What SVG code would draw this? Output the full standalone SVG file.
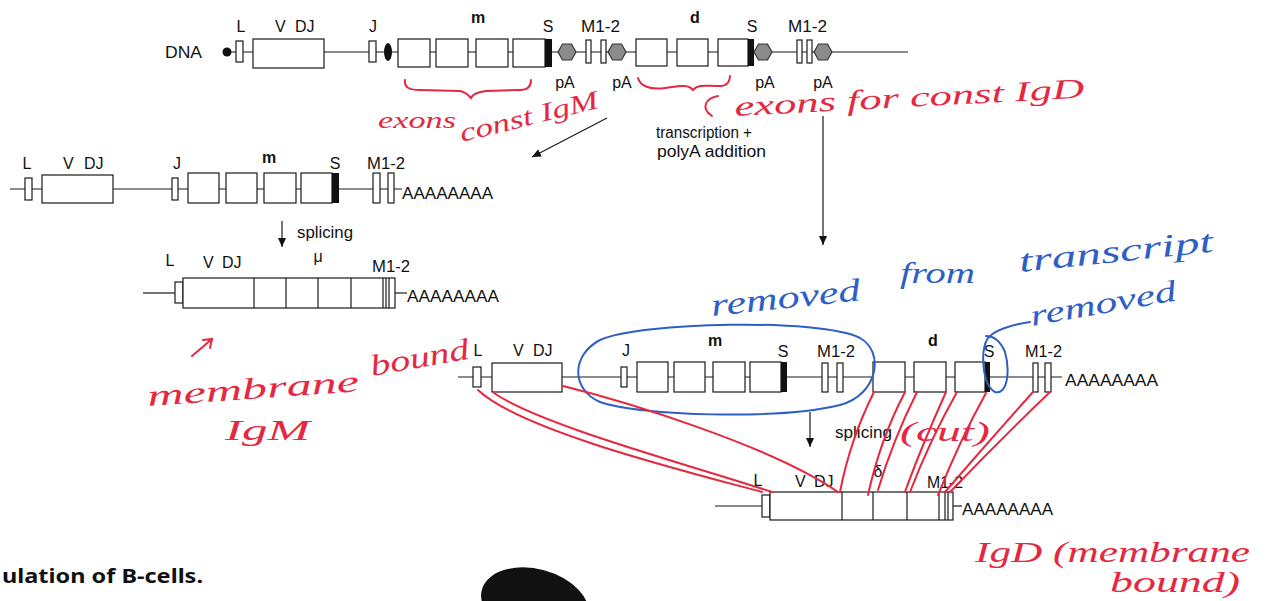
<svg xmlns="http://www.w3.org/2000/svg" width="1267" height="601" viewBox="0 0 1267 601">
<style>
.bx{fill:#fff;stroke:#1a1a1a;stroke-width:1.2}
.bar{fill:#111}
.ln{stroke:#1a1a1a;stroke-width:1.2;fill:none}
.lb{font-family:"Liberation Sans",Arial,sans-serif;font-size:16px;fill:#111}
.b{font-weight:bold}
.mid{text-anchor:middle}
.aa{font-family:"Liberation Sans",Arial,sans-serif;font-size:16px;fill:#111}
.hx{fill:#8c8c8c;stroke:#333;stroke-width:1.2}
.hr{font-family:"Liberation Serif",serif;font-style:italic;fill:#e5283f}
.hb{font-family:"Liberation Serif",serif;font-style:italic;fill:#2f5fc4}
.rs{stroke:#e5283f;stroke-width:2;fill:none;stroke-linecap:round}
.bs{stroke:#2f5fc4;stroke-width:2;fill:none;stroke-linecap:round}
</style>
<defs>
<polygon id="hex" points="9,0 4.5,-8 -4.5,-8 -9,0 -4.5,8 4.5,8"/>
<marker id="arr" markerUnits="userSpaceOnUse" markerWidth="10" markerHeight="10" refX="9" refY="4" orient="auto">
<path d="M0,0 L9,4 L0,8 Z" fill="#111"/>
</marker>
</defs>
<rect width="1267" height="601" fill="#fff"/>

<g id="dna">
<text class="lb" x="165" y="58" textLength="37" lengthAdjust="spacingAndGlyphs">DNA</text>
<line class="ln" x1="227" y1="52" x2="908" y2="52"/>
<circle cx="227" cy="52" r="4.5" fill="#111"/>
<rect class="bx" x="236" y="41" width="7" height="21"/>
<rect class="bx" x="253" y="39" width="71" height="29"/>
<rect class="bx" x="369" y="41" width="7" height="21"/>
<ellipse cx="388" cy="52" rx="4" ry="9" fill="#111"/>
<rect class="bx" x="398" y="39" width="32" height="28"/>
<rect class="bx" x="436" y="39" width="32" height="28"/>
<rect class="bx" x="476" y="39" width="32" height="28"/>
<rect class="bx" x="513" y="39" width="32" height="28"/>
<rect class="bar" x="545" y="39" width="7" height="28"/>
<use href="#hex" class="hx" x="567" y="52"/>
<rect class="bx" x="586" y="40" width="5" height="23"/>
<rect class="bx" x="601" y="40" width="5" height="23"/>
<use href="#hex" class="hx" x="617" y="52"/>
<rect class="bx" x="636" y="39" width="31" height="27"/>
<rect class="bx" x="677" y="39" width="31" height="27"/>
<rect class="bx" x="718" y="39" width="30" height="27"/>
<rect class="bar" x="748" y="39" width="6" height="27"/>
<use href="#hex" class="hx" x="763" y="52"/>
<rect class="bx" x="797" y="40" width="5" height="23"/>
<rect class="bx" x="807" y="40" width="5" height="23"/>
<use href="#hex" class="hx" x="823" y="52"/>
<text class="lb mid" x="241" y="32">L</text>
<text class="lb" x="275" y="32">V</text>
<text class="lb" x="295" y="32">DJ</text>
<text class="lb mid" x="373" y="32">J</text>
<text class="lb b mid" x="478" y="23">m</text>
<text class="lb mid" x="548" y="32">S</text>
<text class="lb" x="581" y="32" textLength="39" lengthAdjust="spacingAndGlyphs">M1-2</text>
<text class="lb b mid" x="695" y="23">d</text>
<text class="lb mid" x="752" y="32">S</text>
<text class="lb" x="788" y="32" textLength="39" lengthAdjust="spacingAndGlyphs">M1-2</text>
<text class="lb mid" x="565" y="88">pA</text>
<text class="lb mid" x="622" y="88">pA</text>
<text class="lb mid" x="765" y="88">pA</text>
<text class="lb mid" x="823" y="88">pA</text>
</g>

<g id="transcript-igm">
<line class="ln" x1="10" y1="189" x2="402" y2="189"/>
<rect class="bx" x="25" y="178" width="7" height="22"/>
<rect class="bx" x="42" y="175" width="71" height="28"/>
<rect class="bx" x="172" y="178" width="6" height="22"/>
<rect class="bx" x="188" y="173" width="31" height="30"/>
<rect class="bx" x="226" y="173" width="31" height="30"/>
<rect class="bx" x="264" y="173" width="32" height="30"/>
<rect class="bx" x="301" y="173" width="31" height="30"/>
<rect class="bar" x="332" y="173" width="7" height="30"/>
<rect class="bx" x="373" y="173" width="7" height="30"/>
<rect class="bx" x="388" y="173" width="6" height="30"/>
<text class="aa" x="402" y="199" textLength="91" lengthAdjust="spacingAndGlyphs">AAAAAAAA</text>
<text class="lb mid" x="27" y="169">L</text>
<text class="lb" x="63" y="169">V</text>
<text class="lb" x="84" y="169">DJ</text>
<text class="lb mid" x="177" y="169">J</text>
<text class="lb b mid" x="269" y="163">m</text>
<text class="lb mid" x="335" y="169">S</text>
<text class="lb" x="367" y="169" textLength="38" lengthAdjust="spacingAndGlyphs">M1-2</text>
</g>

<g id="mrna-igm">
<line class="ln" x1="143" y1="293" x2="175" y2="293"/>
<line class="ln" x1="395" y1="293" x2="407" y2="293"/>
<rect class="bx" x="175" y="282" width="8" height="21"/>
<rect class="bx" x="183" y="278" width="212" height="30"/>
<line class="ln" x1="254" y1="278" x2="254" y2="308"/>
<line class="ln" x1="286" y1="278" x2="286" y2="308"/>
<line class="ln" x1="318" y1="278" x2="318" y2="308"/>
<line class="ln" x1="351" y1="278" x2="351" y2="308"/>
<line class="ln" x1="383" y1="278" x2="383" y2="308"/>
<line class="ln" x1="386" y1="278" x2="386" y2="308"/>
<line class="ln" x1="389" y1="278" x2="389" y2="308"/>
<text class="aa" x="407" y="302" textLength="92" lengthAdjust="spacingAndGlyphs">AAAAAAAA</text>
<text class="lb mid" x="170" y="266">L</text>
<text class="lb" x="203" y="268">V</text>
<text class="lb" x="222" y="268">DJ</text>
<text class="lb mid" x="318" y="262">μ</text>
<text class="lb" x="372" y="272" textLength="38" lengthAdjust="spacingAndGlyphs">M1-2</text>
</g>

<g id="transcript-igd">
<line class="ln" x1="458" y1="377" x2="1062" y2="377"/>
<rect class="bx" x="473" y="367" width="8" height="20"/>
<rect class="bx" x="492" y="363" width="70" height="29"/>
<rect class="bx" x="621" y="367" width="6" height="20"/>
<rect class="bx" x="637" y="362" width="31" height="30"/>
<rect class="bx" x="674" y="362" width="31" height="30"/>
<rect class="bx" x="713" y="362" width="32" height="30"/>
<rect class="bx" x="750" y="362" width="31" height="30"/>
<rect class="bar" x="781" y="362" width="6" height="30"/>
<rect class="bx" x="822" y="363" width="6" height="29"/>
<rect class="bx" x="837" y="363" width="6" height="29"/>
<rect class="bx" x="873" y="362" width="32" height="30"/>
<rect class="bx" x="914" y="362" width="32" height="30"/>
<rect class="bx" x="955" y="362" width="30" height="30"/>
<rect class="bar" x="985" y="362" width="5" height="30"/>
<rect class="bx" x="1033" y="363" width="5" height="29"/>
<rect class="bx" x="1045" y="363" width="6" height="29"/>
<text class="aa" x="1065" y="386" textLength="93" lengthAdjust="spacingAndGlyphs">AAAAAAAA</text>
<text class="lb mid" x="478" y="356">L</text>
<text class="lb" x="513" y="356">V</text>
<text class="lb" x="533" y="356">DJ</text>
<text class="lb mid" x="626" y="356">J</text>
<text class="lb b mid" x="715" y="346">m</text>
<text class="lb mid" x="783" y="357">S</text>
<text class="lb" x="817" y="357" textLength="38" lengthAdjust="spacingAndGlyphs">M1-2</text>
<text class="lb b mid" x="933" y="346">d</text>
<text class="lb mid" x="989" y="357">S</text>
<text class="lb" x="1025" y="357" textLength="37" lengthAdjust="spacingAndGlyphs">M1-2</text>
</g>

<g id="mrna-igd">
<line class="ln" x1="715" y1="506" x2="762" y2="506"/>
<line class="ln" x1="953" y1="506" x2="962" y2="506"/>
<rect class="bx" x="762" y="495" width="8" height="22"/>
<rect class="bx" x="770" y="492" width="183" height="28"/>
<line class="ln" x1="842" y1="492" x2="842" y2="520"/>
<line class="ln" x1="873" y1="492" x2="873" y2="520"/>
<line class="ln" x1="907" y1="492" x2="907" y2="520"/>
<line class="ln" x1="939" y1="492" x2="939" y2="520"/>
<line class="ln" x1="945" y1="492" x2="945" y2="520"/>
<line class="ln" x1="948" y1="492" x2="948" y2="520"/>
<text class="aa" x="962" y="515" textLength="91" lengthAdjust="spacingAndGlyphs">AAAAAAAA</text>
<text class="lb mid" x="758" y="486">L</text>
<text class="lb" x="795" y="487">V</text>
<text class="lb" x="814" y="487">DJ</text>
<text class="lb mid" x="878" y="477">δ</text>
<text class="lb" x="927" y="488" textLength="36" lengthAdjust="spacingAndGlyphs">M1-2</text>
</g>

<g id="connectors">
<line class="ln" x1="607" y1="118" x2="532" y2="157" marker-end="url(#arr)"/>
<line class="ln" x1="823" y1="116" x2="823" y2="245" marker-end="url(#arr)"/>
<line class="ln" x1="282" y1="221" x2="282" y2="247" marker-end="url(#arr)"/>
<line class="ln" x1="810" y1="412" x2="810" y2="447" marker-end="url(#arr)"/>
<text class="lb" x="656" y="138" textLength="96" lengthAdjust="spacingAndGlyphs">transcription +</text>
<text class="lb" x="657" y="157" textLength="109" lengthAdjust="spacingAndGlyphs">polyA addition</text>
<text class="lb" x="297" y="238" textLength="56" lengthAdjust="spacingAndGlyphs">splicing</text>
<text class="lb" x="835" y="438" textLength="57" lengthAdjust="spacingAndGlyphs">splicing</text>
</g>

<g id="annotations">
<path class="rs" d="M405,80 C404,88 410,90 420,90 L460,91 C466,92 468,95 471,98 C473,94 477,92 486,91 L520,90 C528,90 531,86 531,80"/>
<path class="rs" d="M638,78 C640,86 650,90 665,88 C680,86 688,84 693,90 C698,84 705,86 720,86 C728,86 730,80 730,76"/>
<path class="rs" d="M718,96 C706,98 700,108 712,116"/>
<text class="hr" x="378" y="128" font-size="24" textLength="78" lengthAdjust="spacingAndGlyphs">exons</text>
<text class="hr" x="462" y="142" font-size="26" textLength="142" lengthAdjust="spacingAndGlyphs" transform="rotate(-14 462 142)">const IgM</text>
<text class="hr" x="735" y="116" font-size="28" textLength="350" lengthAdjust="spacingAndGlyphs" transform="rotate(-3 735 116)">exons for const IgD</text>
<text class="hb" x="712" y="316" font-size="32" textLength="150" lengthAdjust="spacingAndGlyphs" transform="rotate(-6 712 316)">removed</text>
<text class="hb" x="900" y="283" font-size="30" textLength="75" lengthAdjust="spacingAndGlyphs">from</text>
<text class="hb" x="1020" y="272" font-size="32" textLength="195" lengthAdjust="spacingAndGlyphs" transform="rotate(-6 1020 272)">transcript</text>
<text class="hb" x="1032" y="326" font-size="30" textLength="148" lengthAdjust="spacingAndGlyphs" transform="rotate(-10 1032 326)">removed</text>
<path class="bs" d="M600,340 C640,322 820,318 860,338 C885,352 878,395 840,405 C780,420 640,416 600,402 C572,390 570,356 600,340 Z"/>
<path class="bs" d="M1030,322 C1010,325 995,330 988,338 C980,350 982,385 995,392 C1008,395 1010,370 1005,352 C1000,340 993,336 986,336"/>
<text class="hr" x="148" y="406" font-size="30" textLength="212" lengthAdjust="spacingAndGlyphs" transform="rotate(-4 148 406)">membrane</text>
<text class="hr" x="372" y="376" font-size="30" textLength="100" lengthAdjust="spacingAndGlyphs" transform="rotate(-10 372 376)">bound</text>
<text class="hr" x="225" y="440" font-size="30" textLength="85" lengthAdjust="spacingAndGlyphs">IgM</text>
<path class="rs" d="M192,356 L212,339 M203,340 L212,339 L210,348"/>
<text class="hr" x="900" y="441" font-size="28" textLength="90" lengthAdjust="spacingAndGlyphs">(cut)</text>
<text class="hr" x="975" y="562" font-size="30" textLength="275" lengthAdjust="spacingAndGlyphs">IgD (membrane</text>
<text class="hr" x="1110" y="592" font-size="30" textLength="130" lengthAdjust="spacingAndGlyphs">bound)</text>
<path class="rs" d="M478,390 C520,430 680,470 762,492"/>
<path class="rs" d="M494,393 C540,425 690,465 772,492"/>
<path class="rs" d="M563,386 C620,400 770,445 838,492"/>
<path class="rs" d="M874,392 Q850,440 840,492"/>
<path class="rs" d="M905,392 Q880,440 868,495"/>
<path class="rs" d="M917,392 Q893,440 878,490"/>
<path class="rs" d="M946,392 Q920,450 905,492"/>
<path class="rs" d="M957,392 Q930,440 910,492"/>
<path class="rs" d="M986,393 Q960,440 938,495"/>
<path class="rs" d="M1033,392 Q990,440 945,492"/>
<path class="rs" d="M1050,392 Q1000,440 950,492"/>
</g>

<g id="page-text">
<text x="2" y="583" font-family="'Noto Sans','Liberation Sans',sans-serif" font-weight="bold" font-size="20" fill="#111" textLength="201" lengthAdjust="spacingAndGlyphs">ulation of B-cells.</text>
<ellipse cx="535" cy="604" rx="55" ry="35" fill="#111" transform="rotate(15 535 604)"/>
</g>
</svg>
